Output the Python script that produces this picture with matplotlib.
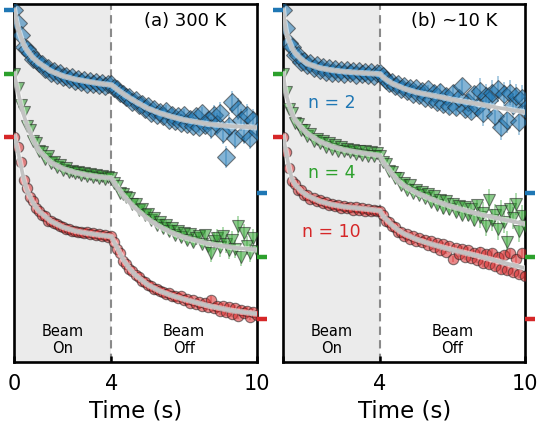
import matplotlib
matplotlib.use('Agg')
import matplotlib.pyplot as plt
import matplotlib.patheffects as pe
from matplotlib.markers import TICKLEFT, TICKRIGHT
import numpy as np

# sampling grid of the measurement (s)
time = np.arange(81) * 0.125
fit_time = [0, 0.06, 0.125, 0.25, 0.375, 0.5, 0.75, 1.0, 1.5, 2.0, 2.5, 3.0, 3.5, 4.0,
            4.125, 4.25, 4.5, 4.75, 5.0, 5.5, 6.0, 6.5, 7.0, 8.0, 9.0, 10.0]

# (a) 300 K, normalised signal
blue_300 = [1.0, 0.93, 0.865, 0.80, 0.79, 0.765, 0.735, 0.73, 0.71, 0.705, 0.68, 0.685, 0.66, 0.67,
            0.645, 0.655, 0.635, 0.64, 0.625, 0.635, 0.615, 0.625, 0.61, 0.62, 0.60, 0.615, 0.595,
            0.61, 0.59, 0.605, 0.585, 0.60, 0.595,
            0.575, 0.57, 0.55, 0.545, 0.525, 0.525, 0.50, 0.51, 0.485, 0.49, 0.46, 0.475, 0.44, 0.46,
            0.425, 0.445, 0.42, 0.45, 0.40, 0.43, 0.395, 0.42, 0.385, 0.43, 0.38, 0.405, 0.37, 0.42,
            0.36, 0.44, 0.375, 0.40, 0.355, 0.425, 0.38, 0.44, 0.33, 0.20, 0.37, 0.50, 0.30, 0.46,
            0.40, 0.33, 0.43, 0.30, 0.40, 0.34]
green_300 = [1.0, 0.92, 0.83, 0.79, 0.715, 0.69, 0.635, 0.62, 0.575, 0.57, 0.535, 0.55, 0.51, 0.515,
             0.49, 0.50, 0.475, 0.485, 0.465, 0.47, 0.455, 0.465, 0.445, 0.455, 0.44, 0.45, 0.435,
             0.445, 0.43, 0.44, 0.425, 0.435, 0.43,
             0.40, 0.385, 0.35, 0.345, 0.325, 0.32, 0.29, 0.29, 0.255, 0.26, 0.225, 0.235, 0.20, 0.21,
             0.175, 0.19, 0.155, 0.175, 0.14, 0.155, 0.12, 0.14, 0.105, 0.13, 0.09, 0.125, 0.08, 0.10,
             0.11, 0.07, 0.12, 0.06, 0.02, 0.085, 0.10, 0.05, 0.11, 0.07, 0.035, 0.09, 0.04, 0.17,
             0.0, 0.13, 0.06, 0.02, 0.10, 0.03]
red_300 = [1.0, 0.94, 0.86, 0.76, 0.72, 0.67, 0.645, 0.61, 0.595, 0.57, 0.565, 0.54, 0.54, 0.525,
           0.52, 0.51, 0.505, 0.495, 0.495, 0.485, 0.485, 0.475, 0.48, 0.47, 0.475, 0.465, 0.47,
           0.46, 0.465, 0.455, 0.46, 0.45, 0.455,
           0.425, 0.385, 0.36, 0.32, 0.305, 0.275, 0.262, 0.24, 0.232, 0.21, 0.205, 0.185, 0.18, 0.165,
           0.168, 0.155, 0.15, 0.14, 0.145, 0.125, 0.13, 0.115, 0.125, 0.105, 0.11, 0.09, 0.105,
           0.085, 0.095, 0.075, 0.09, 0.065, 0.105, 0.06, 0.075, 0.045, 0.07, 0.04, 0.065, 0.03,
           0.06, 0.02, 0.05, 0.035, 0.045, 0.015, 0.04, 0.025]

# (b) ~10 K, normalised signal
blue_10 = [1.0, 0.905, 0.82, 0.80, 0.755, 0.755, 0.72, 0.725, 0.70, 0.71, 0.685, 0.70, 0.675, 0.69,
           0.665, 0.685, 0.66, 0.68, 0.655, 0.675, 0.65, 0.675, 0.655, 0.67, 0.645, 0.67, 0.65,
           0.665, 0.645, 0.665, 0.64, 0.66, 0.655,
           0.64, 0.62, 0.605, 0.61, 0.585, 0.60, 0.57, 0.585, 0.56, 0.575, 0.545, 0.575, 0.535, 0.56,
           0.52, 0.57, 0.515, 0.55, 0.50, 0.555, 0.49, 0.53, 0.475, 0.55, 0.47, 0.52, 0.585, 0.46,
           0.50, 0.45, 0.54, 0.47, 0.56, 0.44, 0.53, 0.51, 0.55, 0.42, 0.57, 0.36, 0.54, 0.40, 0.55,
           0.48, 0.53, 0.39, 0.52, 0.46]
green_10 = [1.0, 0.90, 0.81, 0.785, 0.73, 0.725, 0.69, 0.695, 0.66, 0.67, 0.635, 0.645, 0.62, 0.63,
            0.60, 0.62, 0.59, 0.61, 0.58, 0.60, 0.575, 0.59, 0.57, 0.585, 0.56, 0.58, 0.555, 0.575,
            0.55, 0.57, 0.55, 0.565, 0.55,
            0.52, 0.505, 0.47, 0.465, 0.43, 0.43, 0.39, 0.405, 0.365, 0.39, 0.35, 0.365, 0.335, 0.355,
            0.32, 0.345, 0.30, 0.33, 0.285, 0.31, 0.265, 0.305, 0.26, 0.29, 0.245, 0.275, 0.23, 0.27,
            0.225, 0.26, 0.20, 0.28, 0.215, 0.24, 0.17, 0.31, 0.20, 0.23, 0.15, 0.25, 0.19, 0.08,
            0.26, 0.21, 0.29, 0.14, 0.22, 0.17]
red_10 = [1.0, 0.915, 0.83, 0.755, 0.74, 0.71, 0.705, 0.68, 0.68, 0.66, 0.665, 0.645, 0.65, 0.635,
          0.64, 0.625, 0.63, 0.62, 0.625, 0.61, 0.62, 0.61, 0.615, 0.60, 0.615, 0.60, 0.61, 0.595,
          0.605, 0.59, 0.60, 0.59, 0.595,
          0.57, 0.54, 0.535, 0.51, 0.505, 0.48, 0.48, 0.455, 0.465, 0.44, 0.455, 0.43, 0.445, 0.425,
          0.435, 0.405, 0.43, 0.395, 0.42, 0.38, 0.41, 0.37, 0.40, 0.33, 0.39, 0.355, 0.385, 0.34,
          0.38, 0.335, 0.365, 0.325, 0.37, 0.31, 0.355, 0.30, 0.36, 0.29, 0.34, 0.275, 0.35, 0.27,
          0.36, 0.26, 0.33, 0.25, 0.36, 0.235]

# error bars (beam on / 4-6 s / 6-8 s / 8-10 s)
err_blue_300 = [0.01] * 33 + [0.015] * 16 + [0.03] * 16 + [0.06] * 16
err_green_300 = [0.01] * 33 + [0.015] * 16 + [0.025] * 16 + [0.05] * 16
err_red_300 = [0.008] * 33 + [0.01] * 16 + [0.012] * 16 + [0.02] * 16
err_blue_10 = [0.01] * 33 + [0.02] * 16 + [0.04] * 16 + [0.07] * 16
err_green_10 = [0.01] * 33 + [0.015] * 16 + [0.03] * 16 + [0.06] * 16
err_red_10 = [0.008] * 33 + [0.01] * 16 + [0.015] * 16 + [0.025] * 16

# fitted curves
fit_blue_300 = [1.0, 0.955, 0.915, 0.86, 0.815, 0.785, 0.742, 0.713, 0.668, 0.641, 0.623, 0.611, 0.60,
                0.592, 0.58, 0.567, 0.543, 0.521, 0.501, 0.464, 0.438, 0.418, 0.401, 0.378, 0.366, 0.359]
fit_green_300 = [1.0, 0.955, 0.915, 0.84, 0.777, 0.727, 0.645, 0.582, 0.515, 0.481, 0.46, 0.446, 0.436,
                 0.43, 0.404, 0.379, 0.335, 0.296, 0.262, 0.206, 0.163, 0.13, 0.105, 0.07, 0.05, 0.037]
fit_red_300 = [1.0, 0.965, 0.93, 0.85, 0.77, 0.71, 0.64, 0.593, 0.537, 0.504, 0.483, 0.471, 0.461,
               0.453, 0.42, 0.39, 0.325, 0.278, 0.242, 0.189, 0.155, 0.13, 0.11, 0.074, 0.047, 0.03]
fit_blue_10 = [1.0, 0.93, 0.88, 0.83, 0.79, 0.765, 0.732, 0.708, 0.685, 0.673, 0.665, 0.66, 0.656,
               0.652, 0.635, 0.622, 0.60, 0.586, 0.572, 0.552, 0.539, 0.526, 0.512, 0.489, 0.465, 0.443]
fit_green_10 = [1.0, 0.935, 0.885, 0.825, 0.78, 0.745, 0.705, 0.672, 0.63, 0.603, 0.584, 0.572, 0.562,
                0.553, 0.52, 0.497, 0.453, 0.414, 0.387, 0.349, 0.321, 0.294, 0.272, 0.236, 0.205, 0.179]
fit_red_10 = [1.0, 0.955, 0.91, 0.82, 0.762, 0.735, 0.70, 0.676, 0.646, 0.628, 0.616, 0.609, 0.602,
              0.594, 0.565, 0.548, 0.515, 0.488, 0.467, 0.438, 0.416, 0.397, 0.38, 0.348, 0.314, 0.28]

offsets = [0.69, 0.343, 0.0]
colors = ['tab:blue', 'tab:green', 'tab:red']
markers = ['D', 'v', 'o']
msizes = [9, 8.5, 7.5]
labels = ['n = 2', 'n = 4', 'n = 10']
label_y = [1.186, 0.80, 0.477]

panels = [
    ('(a) 300 K', [blue_300, green_300, red_300], [err_blue_300, err_green_300, err_red_300],
     [fit_blue_300, fit_green_300, fit_red_300]),
    ('(b) ~10 K', [blue_10, green_10, red_10], [err_blue_10, err_green_10, err_red_10],
     [fit_blue_10, fit_green_10, fit_red_10]),
]

fig = plt.figure(figsize=(5.42, 4.34), dpi=100)
axes = [fig.add_axes([0.02675, 0.1666, 0.4465, 0.8242]),
        fig.add_axes([0.5227, 0.1666, 0.4460, 0.8242])]

for k, (ax, (title, series, errs, fits)) in enumerate(zip(axes, panels)):
    ax.axvspan(0, 4, color='#ebebeb', zorder=0, lw=0)
    ax.axvline(4, color='#8a8a8a', ls=(0, (4, 2.5)), lw=1.5, zorder=1)

    for y, e, f, off, c, m, ms in zip(series, errs, fits, offsets, colors, markers, msizes):
        yy = np.array(y) + off
        ax.errorbar(time, yy, yerr=e, fmt='none', ecolor=c, elinewidth=1.3, alpha=0.4, zorder=2)
        ax.plot(time, yy, ls='none', marker=m, ms=ms, mfc=c, mec='#202020', mew=0.8,
                alpha=0.55, zorder=3)
        ax.plot(fit_time, np.array(f) + off, color='#c2c2c2', lw=2.6, zorder=4,
                solid_joinstyle='round',
                path_effects=[pe.Stroke(linewidth=4.2, foreground='white', alpha=0.55), pe.Normal()])

        # coloured markers: start level on the left, zero level on the right
        trans = ax.get_yaxis_transform()
        ax.plot([0], [off + 1.0], transform=trans, ls='none', marker=TICKLEFT, ms=7,
                mew=3.2, color=c, clip_on=False, zorder=6)
        ax.plot([1], [off], transform=trans, ls='none', marker=TICKRIGHT, ms=7,
                mew=3.2, color=c, clip_on=False, zorder=6)

    ax.set_xlim(0, 10)
    ax.set_ylim(-0.232, 1.725)

    ax.text(0.705, 0.953, title, transform=ax.transAxes, ha='center', va='center', fontsize=13)
    ax.text(2.0, -0.113, 'Beam\nOn', ha='center', va='center', fontsize=10.5, linespacing=1.15)
    ax.text(7.0, -0.113, 'Beam\nOff', ha='center', va='center', fontsize=10.5, linespacing=1.15)

    ax.set_xticks([0, 4, 10])
    ax.set_xticklabels(['0' if k == 0 else '', '4', '10'])
    ax.tick_params(axis='x', direction='in', length=4, width=1.8, labelsize=15, pad=9)
    ax.set_xlabel('Time (s)', fontsize=16.5, labelpad=4)
    ax.set_yticks([])

    for s in ax.spines.values():
        s.set_linewidth(1.9)
        s.set_color('black')

    if k == 1:
        for lab, ly, c in zip(labels, label_y, colors):
            ax.text(2.0, ly, lab, color=c, ha='center', va='center', fontsize=12.5)

fig.savefig('out.png', dpi=100)
